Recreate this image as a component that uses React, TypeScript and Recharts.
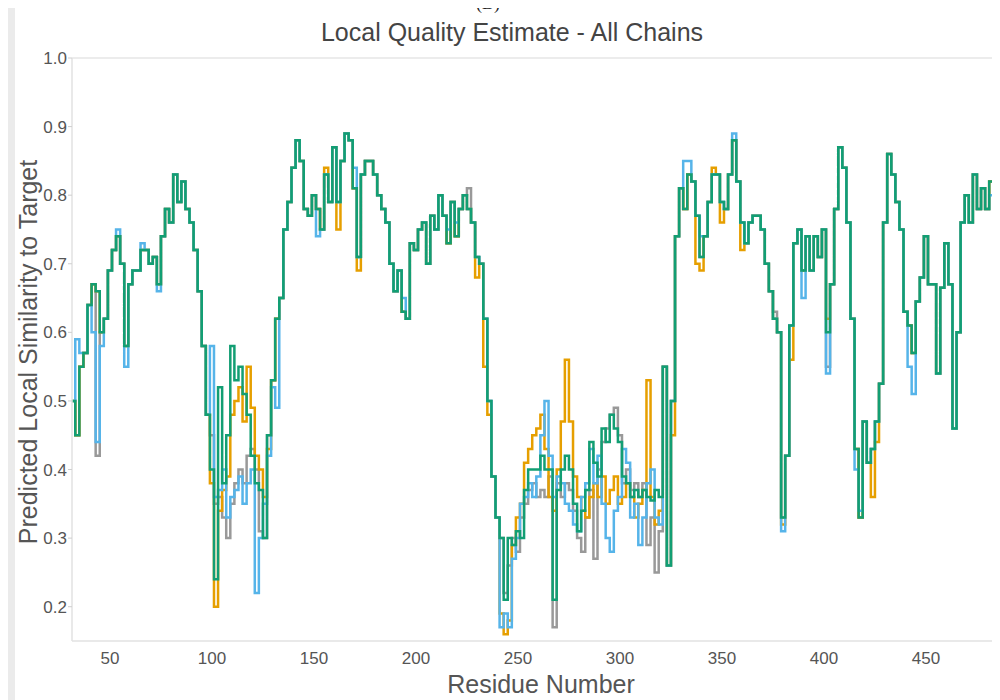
import React from 'react';
import { LineChart, Line, XAxis, YAxis, ReferenceLine } from 'recharts';

// Residue positions (every 2nd residue, 31..487)
const residues: number[] = [];
for (let r = 31; r <= 487; r += 2) residues.push(r);

// Consensus trace read from the green chain (values at the residues above)
const greenValues: number[] = [
  0.50, 0.45, 0.55, 0.57, 0.64, 0.67, 0.66, 0.60, 0.62, 0.69,
  0.72, 0.74, 0.70, 0.58, 0.67, 0.69, 0.69, 0.72, 0.72, 0.70,
  0.71, 0.67, 0.74, 0.78, 0.76, 0.83, 0.79, 0.82, 0.78, 0.76,
  0.72, 0.66, 0.58, 0.48, 0.40, 0.24, 0.52, 0.38, 0.45, 0.58,
  0.53, 0.55, 0.51, 0.48, 0.42, 0.38, 0.37, 0.30, 0.45, 0.53,
  0.62, 0.65, 0.75, 0.79, 0.84, 0.88, 0.85, 0.78, 0.77, 0.80,
  0.78, 0.75, 0.83, 0.79, 0.87, 0.79, 0.85, 0.89, 0.88, 0.81,
  0.71, 0.83, 0.85, 0.85, 0.83, 0.80, 0.78, 0.76, 0.70, 0.66,
  0.69, 0.63, 0.62, 0.73, 0.72, 0.75, 0.76, 0.70, 0.77, 0.75,
  0.80, 0.77, 0.73, 0.79, 0.74, 0.78, 0.80, 0.78, 0.76, 0.71,
  0.70, 0.62, 0.50, 0.39, 0.33, 0.30, 0.21, 0.30, 0.29, 0.31,
  0.30, 0.37, 0.40, 0.40, 0.40, 0.42, 0.40, 0.40, 0.21, 0.37,
  0.40, 0.42, 0.40, 0.35, 0.31, 0.34, 0.37, 0.44, 0.41, 0.39,
  0.46, 0.44, 0.48, 0.46, 0.44, 0.39, 0.38, 0.36, 0.37, 0.36,
  0.37, 0.36, 0.355, 0.37, 0.36, 0.55, 0.26, 0.50, 0.74, 0.81,
  0.78, 0.83, 0.82, 0.77, 0.71, 0.74, 0.79, 0.83, 0.83, 0.79,
  0.78, 0.83, 0.88, 0.82, 0.76, 0.73, 0.76, 0.77, 0.77, 0.75,
  0.70, 0.66, 0.62, 0.60, 0.33, 0.42, 0.61, 0.73, 0.75, 0.69,
  0.74, 0.69, 0.74, 0.71, 0.75, 0.60, 0.67, 0.78, 0.87, 0.84,
  0.76, 0.62, 0.43, 0.33, 0.47, 0.41, 0.43, 0.47, 0.525, 0.76,
  0.86, 0.83, 0.79, 0.75, 0.63, 0.61, 0.57, 0.645, 0.68, 0.74,
  0.67, 0.67, 0.54, 0.665, 0.73, 0.67, 0.46, 0.60, 0.76, 0.80,
  0.76, 0.83, 0.78, 0.81, 0.78, 0.82, 0.77, 0.79, 0.70,
];

// Where the other chains differ from the green trace: [residue, value]
const blueEdits: [number, number][] = [
  [31, 0.50], [33, 0.59], [35, 0.57], [41, 0.60], [43, 0.44], [45, 0.58], [53, 0.75], [57, 0.55], [65, 0.73], [73, 0.66],
  [99, 0.58], [101, 0.36], [103, 0.37], [105, 0.40], [107, 0.33], [109, 0.36], [111, 0.37], [113, 0.39], [115, 0.35],
  [117, 0.38], [119, 0.40], [121, 0.22], [123, 0.30], [125, 0.35], [127, 0.42], [129, 0.52], [131, 0.49],
  [151, 0.74], [169, 0.84], [193, 0.65], [215, 0.75], [219, 0.76],
  [241, 0.17], [243, 0.19], [245, 0.17], [247, 0.27], [249, 0.30], [251, 0.35], [253, 0.36], [255, 0.38], [257, 0.36],
  [259, 0.39], [261, 0.45], [263, 0.50], [265, 0.42], [267, 0.36], [269, 0.39], [271, 0.38], [273, 0.35], [275, 0.34],
  [277, 0.32], [279, 0.31], [281, 0.36], [283, 0.38], [285, 0.43], [287, 0.38], [289, 0.42], [291, 0.35], [293, 0.30],
  [295, 0.28], [297, 0.34], [299, 0.36], [301, 0.43], [303, 0.41], [305, 0.33], [307, 0.35], [309, 0.29], [311, 0.33],
  [313, 0.38], [315, 0.40], [317, 0.33], [319, 0.32],
  [331, 0.85], [333, 0.85], [339, 0.74], [355, 0.89],
  [379, 0.31], [389, 0.65], [401, 0.54], [415, 0.40], [417, 0.34], [441, 0.55], [443, 0.51], [481, 0.80], [485, 0.64], [487, 0.63],
];

const orangeEdits: [number, number][] = [
  [99, 0.38], [101, 0.20], [103, 0.34], [105, 0.37], [107, 0.39], [109, 0.48], [111, 0.50], [113, 0.52], [115, 0.47],
  [117, 0.55], [119, 0.49], [121, 0.42], [123, 0.40], [125, 0.36], [127, 0.43],
  [155, 0.84], [161, 0.75], [171, 0.69], [229, 0.68], [233, 0.55], [235, 0.48],
  [241, 0.19], [243, 0.16], [245, 0.18], [247, 0.29], [249, 0.33], [251, 0.35], [253, 0.41], [255, 0.43], [257, 0.45],
  [259, 0.46], [261, 0.48], [263, 0.43], [265, 0.36], [267, 0.34], [269, 0.40], [271, 0.47], [273, 0.56], [275, 0.47],
  [277, 0.39], [279, 0.36], [281, 0.34], [283, 0.33], [285, 0.36], [287, 0.38], [289, 0.36], [291, 0.39], [293, 0.35],
  [295, 0.37], [297, 0.39], [299, 0.35], [301, 0.36], [303, 0.38], [305, 0.36], [307, 0.33], [309, 0.35], [311, 0.37],
  [313, 0.53], [315, 0.36], [317, 0.32], [319, 0.34], [325, 0.45],
  [337, 0.70], [339, 0.69], [345, 0.84], [349, 0.76], [359, 0.72], [379, 0.32], [383, 0.56], [401, 0.62], [423, 0.36], [425, 0.44],
];

const grayEdits: [number, number][] = [
  [43, 0.42], [99, 0.45], [101, 0.35], [103, 0.36], [105, 0.33], [107, 0.30], [109, 0.35], [111, 0.38], [113, 0.40],
  [115, 0.38], [117, 0.42], [119, 0.43], [121, 0.40], [123, 0.31], [133, 0.65],
  [225, 0.81], [243, 0.22], [245, 0.26], [247, 0.30], [249, 0.28], [251, 0.33], [253, 0.35], [255, 0.37], [257, 0.38],
  [259, 0.36], [261, 0.37], [263, 0.36], [265, 0.39], [267, 0.17], [269, 0.38], [271, 0.36], [273, 0.38], [275, 0.37],
  [277, 0.34], [279, 0.30], [281, 0.28], [283, 0.33], [285, 0.37], [287, 0.27], [289, 0.40], [291, 0.44], [293, 0.46],
  [295, 0.48], [297, 0.49], [299, 0.45], [301, 0.38], [303, 0.40], [305, 0.37], [307, 0.38], [309, 0.36], [311, 0.38],
  [313, 0.29], [315, 0.33], [317, 0.25], [319, 0.31],
  [375, 0.63], [401, 0.55], [483, 0.72],
];

const xTicks = [50, 100, 150, 200, 250, 300, 350, 400, 450];
const yTicks = [0.2, 0.3, 0.4, 0.5, 0.6, 0.7, 0.8, 0.9, 1.0];

const withEdits = (edits: [number, number][]) => {
  const m = new Map(edits);
  return residues.map((r, i) => (m.has(r) ? (m.get(r) as number) : greenValues[i]));
};

const grayValues = withEdits(grayEdits);
const orangeValues = withEdits(orangeEdits);
const blueValues = withEdits(blueEdits);

const data = residues.map((r, i) => ({
  r,
  gray: grayValues[i],
  orange: orangeValues[i],
  blue: blueValues[i],
  green: greenValues[i],
}));

const FONT = "'Liberation Sans', Arial, Helvetica, sans-serif";

export default function App() {
  return (
    <div style={{ position: 'relative', width: 992, height: 692, fontFamily: FONT }}>
      <div style={{ position: 'absolute', left: 0, top: 0, width: 7, height: 692, background: '#ebebeb' }} />
      <LineChart width={992} height={692} data={data} margin={{ top: 50, right: 0, bottom: 0, left: 0 }}>
        <XAxis
          dataKey="r"
          type="number"
          domain={[31.4, 486.3]}
          allowDataOverflow
          ticks={xTicks}
          tickLine={false}
          axisLine={{ stroke: '#e2e2e2', strokeWidth: 1.5 }}
          height={59}
          tickSize={6}
          tickMargin={5}
          tick={{ fontSize: 17, fill: '#555', fontFamily: FONT }}
        />
        <YAxis
          type="number"
          domain={[0.15, 1]}
          allowDataOverflow
          ticks={yTicks}
          tickFormatter={(v: number) => v.toFixed(1)}
          width={64}
          axisLine={{ stroke: '#e2e2e2', strokeWidth: 1.5 }}
          tickLine={{ stroke: '#cfcfcf' }}
          tickSize={4}
          tickMargin={1}
          tick={{ fontSize: 17, fill: '#555', fontFamily: FONT }}
        />
        <ReferenceLine y={1} stroke="#e6e6e6" strokeWidth={1.5} />
        <Line type="stepAfter" dataKey="gray" stroke="#999999" strokeWidth={2.5} dot={false} isAnimationActive={false} />
        <Line type="stepAfter" dataKey="orange" stroke="#E69F00" strokeWidth={2.5} dot={false} isAnimationActive={false} />
        <Line type="stepAfter" dataKey="blue" stroke="#56B4E9" strokeWidth={2.5} dot={false} isAnimationActive={false} />
        <Line type="stepAfter" dataKey="green" stroke="#129E73" strokeWidth={2.5} dot={false} isAnimationActive={false} />
      </LineChart>
      <svg
        width={992}
        height={692}
        style={{ position: 'absolute', left: 0, top: 0, overflow: 'visible', pointerEvents: 'none' }}
      >
        <text x={480} y={1} fontFamily="'Liberation Serif', 'Times New Roman', serif" fontSize={18} fill="#222" textAnchor="middle">
          (B)
        </text>
        <text x={504} y={33} fontFamily={FONT} fontSize={25} fill="#444" textAnchor="middle">
          Local Quality Estimate - All Chains
        </text>
        <text
          x={20}
          y={344}
          fontFamily={FONT}
          fontSize={25}
          fill="#555"
          textAnchor="middle"
          dominantBaseline="central"
          transform="rotate(-90 20 344)"
        >
          Predicted Local Similarity to Target
        </text>
        <text x={533} y={676} fontFamily={FONT} fontSize={25} fill="#555" textAnchor="middle" dominantBaseline="central">
          Residue Number
        </text>
      </svg>
    </div>
  );
}
